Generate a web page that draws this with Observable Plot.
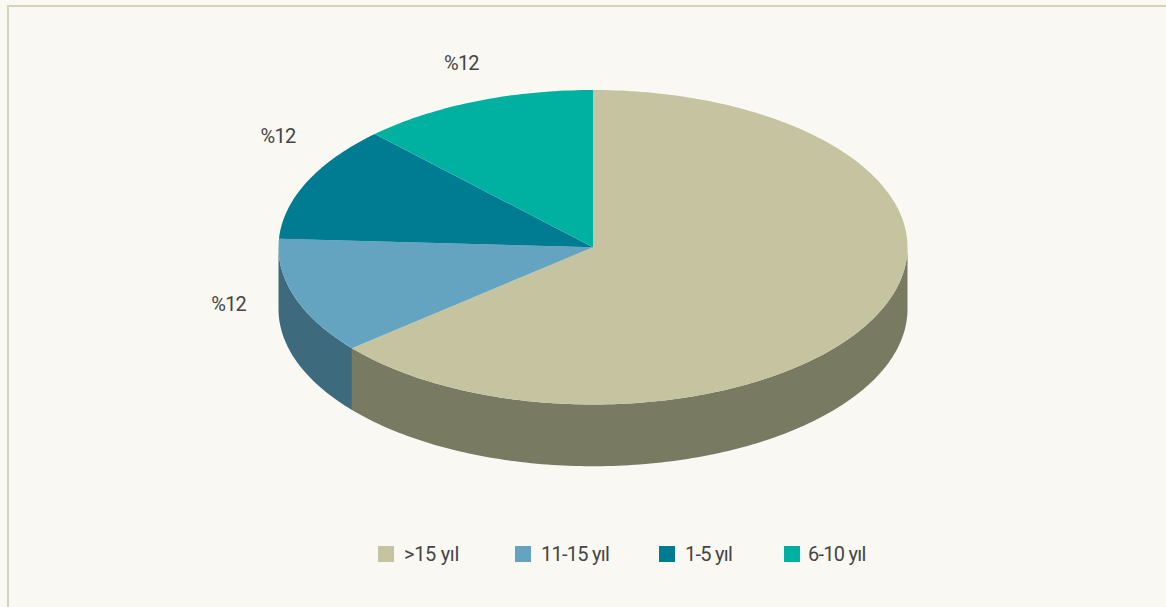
<!DOCTYPE html>
<html lang="tr">
<head>
<meta charset="utf-8">
<script src="https://cdn.jsdelivr.net/npm/d3@7"></script>
<script src="https://cdn.jsdelivr.net/npm/@observablehq/plot@0.6"></script>
<style>
  html, body { margin: 0; background: #f9f8f3; width: 1166px; height: 607px; overflow: hidden; }
  #frame { position: absolute; left: 7px; top: 5px; right: 0; bottom: 0; border-top: 2px solid #d6d3b9; border-left: 2px solid #d6d3b9; }
  #chart { position: absolute; left: 0; top: 0; }
  #chart svg { display: block; background: transparent; }
  #chart text { letter-spacing: -0.8px; }
  #legend { position: absolute; left: 378px; top: 542px; display: flex; gap: 53px; font: 20px Roboto, sans-serif; color: #454545; line-height: 24px; letter-spacing: -0.75px; }
  #legend .item { display: flex; align-items: center; gap: 10px; white-space: nowrap; }
  #legend .item:nth-child(1) { letter-spacing: -0.3px; margin-right: 3px; }
  #legend .item:nth-child(2) { margin-right: -3px; }
  #legend .item:nth-child(3) { margin-right: -1px; }
  #legend .item:nth-child(4) { gap: 8px; }
  #legend .swatch { width: 16px; height: 16px; display: block; }
</style>
</head>
<body>
<div id="frame"></div>
<div id="chart"></div>
<div id="legend"></div>
<script>
const categories = [">15 yıl", "11-15 yıl", "1-5 yıl", "6-10 yıl"];
const shares = [63.9, 11.95, 11.95, 12.2];
const labels = [null, "%12", "%12", "%12"];
const topColors = ["#c6c3a0", "#65a4c0", "#007c92", "#00b1a2"];
const sideColors = ["#787a62", "#3d6a7c", "#005a6a", "#007f74"];

// Ellipse geometry in pie units (rx = ry = 1 before the scales stretch them)
const width = 1166, height = 530;
const cx = 592.5, cy = 246.75, rx = 314.5, ry = 157.25, depthPx = 61.7;
const depth = depthPx / ry;
const total = d3.sum(shares);
const cum = d3.cumsum(shares);
const slices = categories.map((name, i) => ({
  name, i,
  a0: ((cum[i] - shares[i]) / total) * 2 * Math.PI,
  a1: (cum[i] / total) * 2 * Math.PI
}));
const arc = (a0, a1) => {
  const n = Math.max(2, Math.ceil((a1 - a0) / (Math.PI / 180)));
  return d3.range(n + 1).map(k => a0 + (a1 - a0) * k / n);
};
const rim = (a, drop = 0) => ({ x: Math.sin(a), y: Math.cos(a) - drop });

const topRows = slices.flatMap(s => [
  { name: s.name, x: 0, y: 0 },
  ...arc(s.a0, s.a1).map(a => ({ name: s.name, ...rim(a) }))
]);

// Only the front half of the rim (90°..270° clockwise from the top) shows a wall
const sideRows = slices.flatMap(s => {
  const a0 = Math.max(s.a0, Math.PI / 2), a1 = Math.min(s.a1, 3 * Math.PI / 2);
  if (a1 <= a0) return [];
  const as = arc(a0, a1);
  return [
    ...as.map(a => ({ name: s.name, ...rim(a) })),
    ...as.slice().reverse().map(a => ({ name: s.name, ...rim(a, depth) }))
  ];
});

// Label offsets from each slice's rim midpoint (pixels)
const labelOffsets = [null, [-66, 8], [-29, -45], [-14, -38]];
const labelMarks = slices.filter(s => labels[s.i]).map(s => {
  const p = rim((s.a0 + s.a1) / 2);
  return Plot.text([{ ...p, text: labels[s.i] }], {
    x: "x", y: "y", text: "text",
    dx: labelOffsets[s.i][0], dy: labelOffsets[s.i][1],
    fontSize: 20, fontFamily: 'Roboto, sans-serif',
    fill: "#454545", textAnchor: "middle"
  });
});

const sideColorOf = new Map(categories.map((c, i) => [c, sideColors[i]]));

const chart = Plot.plot({
  width, height,
  margin: 0,
  style: { background: "transparent", overflow: "visible" },
  x: { axis: null, domain: [-cx / rx, (width - cx) / rx], range: [0, width] },
  y: { axis: null, domain: [(height - cy) / -ry, cy / ry], range: [height, 0] },
  color: { domain: categories, range: topColors },
  marks: [
    ...categories.map(c => Plot.line(sideRows.filter(d => d.name === c), {
      x: "x", y: "y", fill: sideColorOf.get(c), stroke: null, curve: "linear"
    })),
    Plot.line(topRows, { x: "x", y: "y", z: "name", fill: "name", stroke: null, curve: "linear" }),
    ...labelMarks
  ]
});
document.getElementById("chart").append(chart);

const legend = d3.select("#legend");
categories.forEach((c, i) => {
  const item = legend.append("div").attr("class", "item");
  item.append("span").attr("class", "swatch").style("background", topColors[i]);
  item.append("span").text(c);
});
</script>
</body>
</html>
